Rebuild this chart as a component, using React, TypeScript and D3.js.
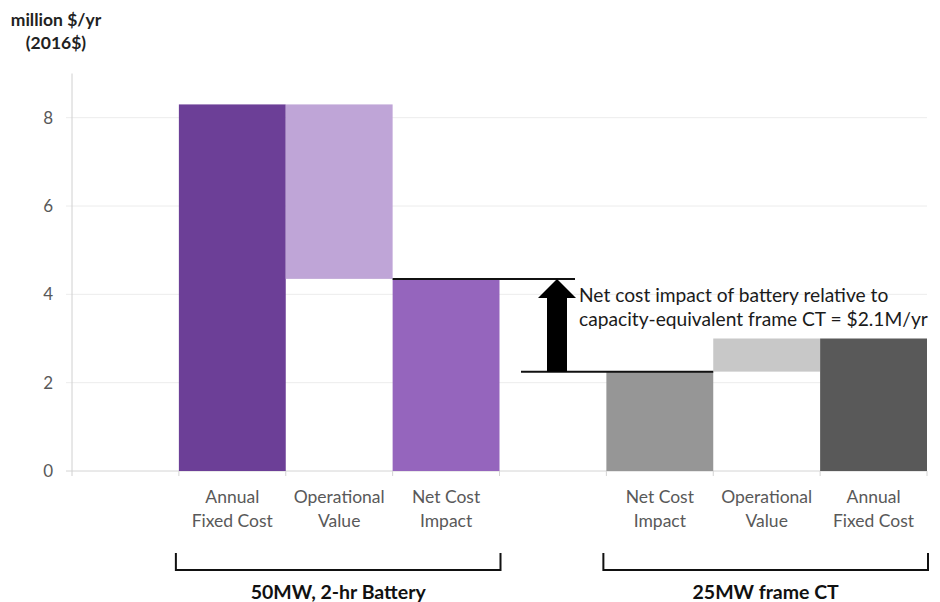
import React from "react";
import * as d3 from "d3";

const categories = ["", "bat-fixed", "bat-op", "bat-net", "gap", "ct-net", "ct-op", "ct-fixed"];
const labelLines: string[][] = [
  [],
  ["Annual", "Fixed Cost"],
  ["Operational", "Value"],
  ["Net Cost", "Impact"],
  [],
  ["Net Cost", "Impact"],
  ["Operational", "Value"],
  ["Annual", "Fixed Cost"],
];
// floating bars: [bottom, top]
const barBottoms = [null, 0, 4.35, 0, null, 0, 2.25, 0];
const barTops = [null, 8.3, 8.3, 4.35, null, 2.25, 3.0, 3.0];
const barColors = ["", "#6C3F97", "#BFA5D7", "#9565BD", "", "#969696", "#C8C8C8", "#595959"];
const yTicks = [0, 2, 4, 6, 8];
const groups = [
  { label: "50MW, 2-hr Battery", from: 1, to: 3 },
  { label: "25MW frame CT", from: 5, to: 7 },
];
const annotationLines = ["Net cost impact of battery relative to", "capacity-equivalent frame CT = $2.1M/yr"];

const W = 940;
const H = 602;
const FONT = "Lato, 'Open Sans', sans-serif";

export default function App() {
  const x = d3.scaleBand<string>().domain(categories).range([72, 927]).padding(0);
  const y = d3.scaleLinear().domain([0, 9]).range([471, 73.5]);
  const bw = x.bandwidth();

  const batNetTop = barTops[3] as number;
  const ctNetTop = barTops[5] as number;
  const arrowX = 557;
  const shaftW = 20;
  const headW = 38;
  const headH = 19;
  const yTip = y(batNetTop);
  const yBase = y(ctNetTop);

  return (
    <svg width={W} height={H} style={{ position: "absolute", left: 0, top: 0, background: "#fff" }} fontFamily={FONT}>
      {/* y title */}
      <text x={56} y={26} textAnchor="middle" fontSize={17.5} fontWeight="bold" fill="#222">million $/yr</text>
      <text x={56} y={49} textAnchor="middle" fontSize={17.5} fontWeight="bold" fill="#222">(2016$)</text>

      {/* grid lines */}
      {yTicks.map((t) => (
        <line key={t} x1={66} x2={927} y1={y(t)} y2={y(t)} stroke={t === 0 ? "#d4d4d4" : "#ececec"} strokeWidth={1} />
      ))}
      {/* y axis */}
      <line x1={72} x2={72} y1={y(9)} y2={y(0) + 5} stroke="#d0d0d0" strokeWidth={1} />
      {yTicks.map((t) => (
        <text key={t} x={53} y={y(t)} dy="0.35em" textAnchor="end" fontSize={17} fill="#595959">{t}</text>
      ))}
      {/* x category ticks */}
      {categories.map((c, i) => (
        <line key={"xt" + i} x1={(x(c) as number) + bw} x2={(x(c) as number) + bw} y1={y(0)} y2={y(0) + 5} stroke="#d4d4d4" />
      ))}

      {/* bars */}
      {categories.map((c, i) => {
        const b = barBottoms[i];
        const t = barTops[i];
        if (b === null || t === null) return null;
        return (
          <rect key={"b" + i} x={x(c)} y={y(t)} width={bw} height={y(b) - y(t)} fill={barColors[i]} />
        );
      })}

      {/* reference lines */}
      <line x1={x("bat-net")} x2={575} y1={yTip} y2={yTip} stroke="#111" strokeWidth={2} />
      <line x1={521} x2={(x("ct-net") as number) + bw} y1={yBase} y2={yBase} stroke="#111" strokeWidth={2} />

      {/* arrow */}
      <path
        d={`M${arrowX - shaftW / 2},${yBase} L${arrowX - shaftW / 2},${yTip + headH} L${arrowX - headW / 2},${yTip + headH} L${arrowX},${yTip} L${arrowX + headW / 2},${yTip + headH} L${arrowX + shaftW / 2},${yTip + headH} L${arrowX + shaftW / 2},${yBase} Z`}
        fill="#000"
      />
      {annotationLines.map((l, i) => (
        <text key={l} x={579} y={302 + i * 24} fontSize={19.2} fill="#1a1a1a">{l}</text>
      ))}

      {/* category labels */}
      {categories.map((c, i) =>
        labelLines[i].map((l, j) => (
          <text key={c + j} x={(x(c) as number) + bw / 2} y={503 + j * 24} textAnchor="middle" fontSize={17.5} fill="#595959">{l}</text>
        ))
      )}

      {/* group brackets */}
      {groups.map((g) => {
        const x0 = (x(categories[g.from]) as number) - 3;
        const x1 = (x(categories[g.to]) as number) + bw + 1;
        return (
          <g key={g.label}>
            <path d={`M${x0},553 L${x0},570 L${x1},570 L${x1},553`} fill="none" stroke="#111" strokeWidth={2} />
            <text x={(x0 + x1) / 2} y={599} textAnchor="middle" fontSize={19.5} fontWeight="bold" fill="#111">{g.label}</text>
          </g>
        );
      })}
    </svg>
  );
}
